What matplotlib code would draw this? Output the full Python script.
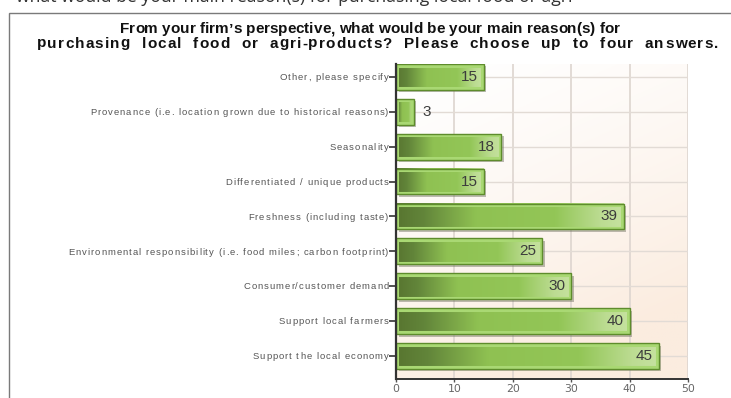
import numpy as np
import matplotlib
matplotlib.use("Agg")
import matplotlib.pyplot as plt
from matplotlib.colors import LinearSegmentedColormap
from matplotlib.patches import Rectangle
from matplotlib.font_manager import FontProperties
import matplotlib.transforms as mtransforms

# Survey responses (bottom to top as drawn)
categories = [
    "Support the local economy",
    "Support local farmers",
    "Consumer/customer demand",
    "Environmental responsibility (i.e. food miles; carbon footprint)",
    "Freshness (including taste)",
    "Differentiated / unique products",
    "Seasonality",
    "Provenance (i.e. location grown due to historical reasons)",
    "Other, please specify",
]
values = [45, 40, 30, 25, 39, 15, 18, 3, 15]
x_ticks = [0, 10, 20, 30, 40, 50]

title_line1 = "From your firm\u2019s perspective, what would be your main reason(s) for"
title_line2 = "purchasing  local  food  or  agri-products?  Please  choose  up  to  four  answers."

plt.rcParams["font.family"] = ["Liberation Sans", "DejaVu Sans"]

W, H = 731, 398
fig = plt.figure(figsize=(W / 100, H / 100), dpi=100)
fig.patch.set_facecolor("white")
renderer = fig.canvas.get_renderer()

_adv_cache = {}


def advance(c, prop):
    """Horizontal advance of one glyph in pixels (measured between bars)."""
    key = (c, prop.get_size_in_points(), prop.get_weight())
    if key not in _adv_cache:
        w1 = renderer.get_text_width_height_descent("|" + c + "|", prop, ismath=False)[0]
        w0 = renderer.get_text_width_height_descent("||", prop, ismath=False)[0]
        _adv_cache[key] = w1 - w0
    return _adv_cache[key]


def natural_width(s, prop):
    return sum(advance(c, prop) for c in s)


def tracked_text(s, x, y, prop, color, tracking=0.0, width=None, ha="left"):
    """Draw s glyph by glyph (pixel coords from top-left) with letter spacing."""
    widths = [advance(c, prop) for c in s]
    natural = sum(widths)
    if width is not None:
        tracking = (width - natural) / max(len(s) - 1, 1)
    total = natural + tracking * (len(s) - 1)
    x0 = {"left": x, "right": x - total, "center": x - total / 2}[ha]
    cx = x0
    for c, w in zip(s, widths):
        if c != " ":
            fig.text(cx / W, 1 - y / H, c, fontproperties=prop, color=color,
                     ha="left", va="baseline")
        cx += w + tracking


# outer frame (extends past the right and bottom edges)
frame = Rectangle((9 / W, -0.1), 1.2, 1 - 13 / H + 0.1, transform=fig.transFigure,
                  fill=False, edgecolor="#7a7a7a", linewidth=1.0)
fig.patches.append(frame)

# caption line of the surrounding document, only its lower edge shows
fig.text(578 / W, 1 - 1.5 / H,
         "what would be your main reason(s) for purchasing local food or agri-",
         fontsize=12.7, color="#333333", va="baseline", ha="right",
         family=["Open Sans", "DejaVu Sans"])

tprop = FontProperties(family="Liberation Sans", size=11.0, weight="bold")
tracked_text(title_line1, 370, 33, tprop, "#111111", width=500, ha="center")
tracked_text(title_line2, 377.5, 47.5, tprop, "#111111", width=681, ha="center")

ax = fig.add_axes([396 / W, 1 - 379 / H, (688 - 396) / W, (379 - 64) / H])
n = len(categories)
ylo, yhi = -0.66, n - 1 + 0.37
ax.set_xlim(0, 50)
ax.set_ylim(ylo, yhi)

# background: white fading to a soft peach toward the lower right
gx = np.linspace(0, 1, 200)
gy = np.linspace(0, 1, 200)
GX, GY = np.meshgrid(gx, gy)
t = np.clip(0.35 * GX + 0.85 * GY, 0, 1) ** 1.4
c0 = np.array([1.0, 1.0, 1.0])
c1 = np.array([0xfb, 0xec, 0xdf]) / 255
bg = c0[None, None, :] * (1 - t[..., None]) + c1[None, None, :] * t[..., None]
ax.imshow(bg, extent=[0, 50, ylo, yhi], origin="upper", aspect="auto", zorder=0)

for xv in x_ticks[1:]:
    ax.axvline(xv, color="#ddd5cf", linewidth=1.2, zorder=1)
for i in range(n):
    ax.axhline(i, color="#e2dbd5", linewidth=1.0, zorder=1)

bar_cmap = LinearSegmentedColormap.from_list(
    "bar", [(0.0, "#587530"), (0.12, "#62853a"), (0.35, "#8fc152"),
            (0.70, "#93c657"), (0.90, "#bcdc92"), (1.0, "#c6e2a0")])

bh = 0.74
grad = np.linspace(0, 1, 256)[None, :]
for i, v in enumerate(values):
    y0 = i - bh / 2
    # drop shadow
    shadow = Rectangle((0, y0), v, bh, facecolor="#6d6d5e", alpha=0.45,
                       edgecolor="none", zorder=2,
                       transform=ax.transData + mtransforms.ScaledTranslation(
                           2.5 / 100, -2.5 / 100, fig.dpi_scale_trans))
    ax.add_patch(shadow)
    ax.imshow(grad, extent=[0, v, y0, y0 + bh], cmap=bar_cmap,
              aspect="auto", zorder=3, interpolation="bilinear")
    ax.add_patch(Rectangle((0.25, y0 + 0.045), v - 0.5, bh - 0.09, fill=False,
                           edgecolor="#a9d873", linewidth=2.2, zorder=4))
    ax.add_patch(Rectangle((0, y0), v, bh, fill=False,
                           edgecolor="#5e8c2c", linewidth=1.0, zorder=5))
    if v >= 10:
        ax.text(v - 1.0, i, str(v), ha="right", va="center", fontsize=11,
                color="#3c3c3c", zorder=6)
    else:
        ax.text(v + 1.6, i, str(v), ha="left", va="center", fontsize=11,
                color="#3c3c3c", zorder=6)

ax.set_yticks(range(n))
ax.set_yticklabels([])
ax.set_xticks(x_ticks)
ax.set_xticklabels([str(x) for x in x_ticks], fontsize=7.8, color="#666666",
                   family=["DejaVu Sans"])
ax.tick_params(axis="y", length=5, width=1.2, color="#333333", pad=1)
ax.tick_params(axis="x", length=2, width=1.0, color="#555555", pad=1.5)

for s in ["top", "right"]:
    ax.spines[s].set_visible(False)
ax.spines["left"].set_color("#333333")
ax.spines["left"].set_linewidth(1.6)
ax.spines["bottom"].set_color("#333333")
ax.spines["bottom"].set_linewidth(1.4)
ax.spines["left"].set_zorder(7)

# category labels, letter-spaced, right-aligned against the tick marks;
# spacing chosen so the longest label spans its full width
lprop = FontProperties(family="Liberation Sans", size=6.8)
longest = max(categories, key=len)
lab_track = (320 - natural_width(longest, lprop)) / (len(longest) - 1)
for i, lab in enumerate(categories):
    _, ypix = ax.transData.transform((0, i))
    tracked_text(lab, 388.5, H - ypix + 3.2, lprop, "#555555",
                 tracking=lab_track, ha="right")

fig.savefig("out.png", dpi=100)
